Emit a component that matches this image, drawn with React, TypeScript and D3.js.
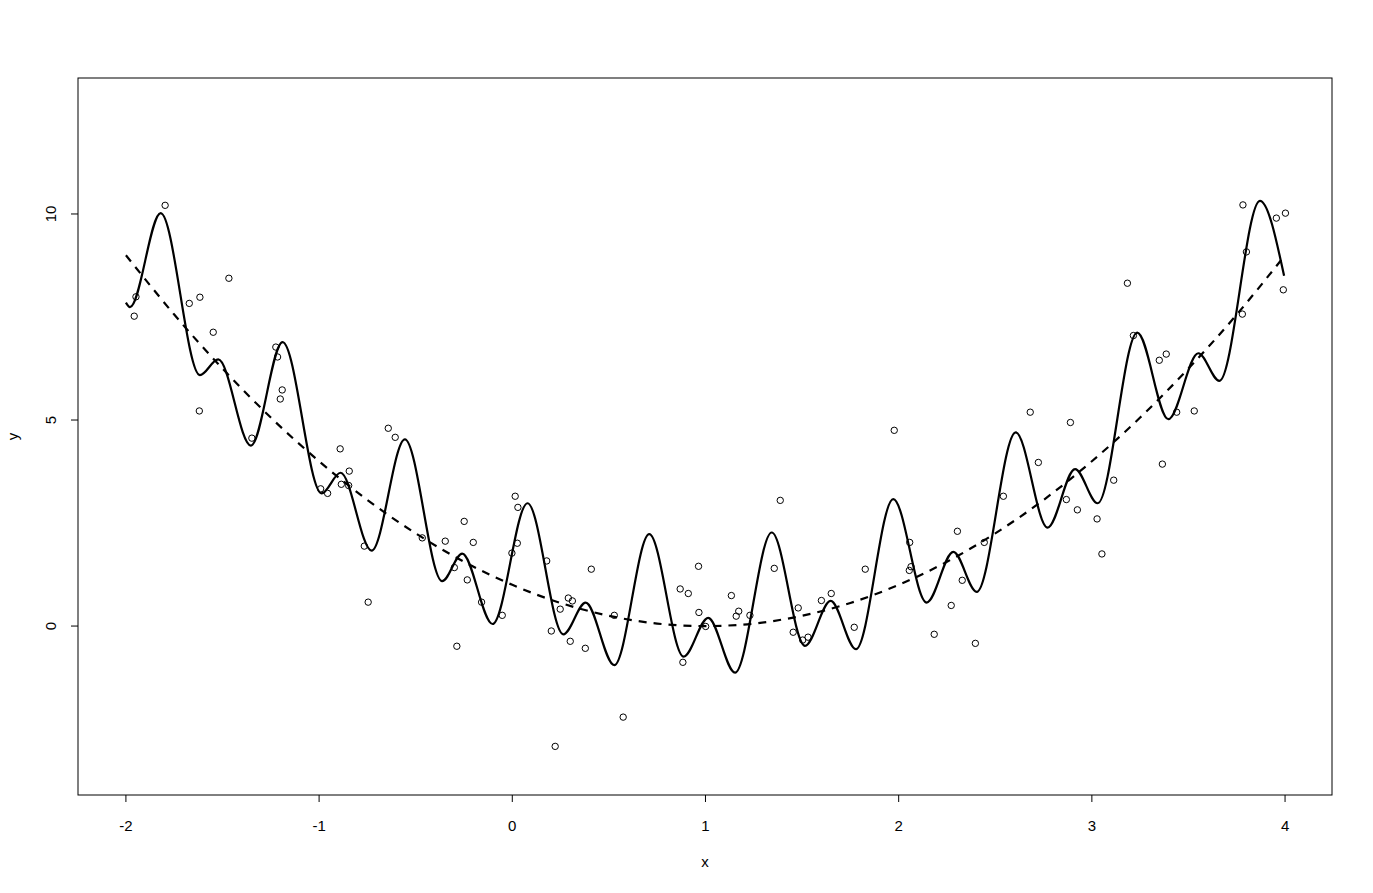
import React from "react";
import * as d3 from "d3";

const pointX = [
  -1.797, -1.948, -1.957, -1.467, -1.672, -1.617, -1.548, -1.620, -1.224, -1.215, -1.191, -1.201, -1.348,
  -0.642, -0.606, -0.891, -0.844, -0.885, -0.847, -0.992, -0.956, -0.766, -0.746, -0.466, -0.347, -0.249,
  -0.202, -0.300, -0.233, -0.159, -0.052, 0.015, 0.029, 0.026, -0.002, -0.287,
  0.178, 0.409, 0.290, 0.311, 0.248, 0.202, 0.300, 0.378, 0.528, 0.574, 0.222, 0.869, 0.911, 0.964, 0.966, 0.883,
  1.001, 1.134, 1.172, 1.159, 1.230, 1.387, 1.356, 1.480, 1.454, 1.503, 1.531, 1.600, 1.651, 1.770, 1.827,
  1.977, 2.057, 2.064, 2.055, 2.304, 2.329, 2.272, 2.184, 2.397, 2.443, 2.542, 2.681, 2.723, 2.889, 2.868, 2.925, 3.027,
  3.113, 3.365, 3.184, 3.215, 3.349, 3.385, 3.439, 3.530, 3.779, 3.800, 3.782, 3.955, 4.002, 3.991, 3.052,
];
const pointY = [
  10.21, 7.99, 7.52, 8.44, 7.83, 7.98, 7.13, 5.22, 6.77, 6.53, 5.73, 5.51, 4.56,
  4.80, 4.58, 4.30, 3.76, 3.44, 3.41, 3.33, 3.22, 1.94, 0.58, 2.14, 2.06, 2.54,
  2.03, 1.42, 1.12, 0.58, 0.26, 3.15, 2.88, 2.01, 1.77, -0.49,
  1.58, 1.38, 0.68, 0.61, 0.41, -0.12, -0.37, -0.54, 0.26, -2.21, -2.92, 0.90, 0.79, 1.45, 0.33, -0.88,
  -0.01, 0.74, 0.36, 0.24, 0.26, 3.05, 1.40, 0.44, -0.15, -0.34, -0.27, 0.62, 0.79, -0.03, 1.38,
  4.75, 2.03, 1.44, 1.35, 2.30, 1.11, 0.50, -0.20, -0.42, 2.03, 3.15, 5.19, 3.97, 4.94, 3.07, 2.82, 2.60,
  3.54, 3.93, 8.32, 7.05, 6.45, 6.60, 5.19, 5.22, 7.57, 9.08, 10.22, 9.90, 10.02, 8.16, 1.75,
];

// fitted curve: start, turning points, end
const fitX = [
  -2.0, -1.979, -1.82, -1.617, -1.522, -1.353, -1.189, -0.987, -0.889, -0.728, -0.556, -0.363, -0.259,
  -0.102, 0.079, 0.264, 0.38, 0.528, 0.709, 0.887, 1.014, 1.153, 1.343, 1.515, 1.648, 1.779, 1.972,
  2.145, 2.283, 2.404, 2.606, 2.771, 2.913, 3.03, 3.235, 3.396, 3.551, 3.66, 3.87, 3.995,
];
const fitY = [
  7.85, 7.74, 10.02, 6.09, 6.47, 4.38, 6.89, 3.22, 3.72, 1.83, 4.53, 1.09, 1.76,
  0.05, 2.98, -0.2, 0.57, -0.95, 2.23, -0.74, 0.2, -1.13, 2.27, -0.48, 0.61, -0.56, 3.08,
  0.57, 1.8, 0.83, 4.7, 2.39, 3.81, 2.98, 7.12, 5.02, 6.62, 5.95, 10.32, 8.5,
];

const trueX = [-2, -1.75, -1.5, -1.25, -1, -0.75, -0.5, -0.25, 0, 0.25, 0.5, 0.75, 1, 1.25, 1.5, 1.75, 2, 2.25, 2.5, 2.75, 3, 3.25, 3.5, 3.75, 4];
const trueY = [9, 7.56, 6.25, 5.06, 4, 3.06, 2.25, 1.56, 1, 0.56, 0.25, 0.06, 0, 0.06, 0.25, 0.56, 1, 1.56, 2.25, 3.06, 4, 5.06, 6.25, 7.56, 9];

const xTicks = [-2, -1, 0, 1, 2, 3, 4];
const yTicks = [0, 5, 10];

export default function App() {
  const W = 1373, H = 893;
  const left = 78, right = 1332, top = 78, bottom = 795;
  const x = d3.scaleLinear().domain([-2.248, 4.243]).range([left, right]);
  const y = d3.scaleLinear().domain([-4.10, 13.30]).range([bottom, top]);

  const fitLine = d3.line<number>()
    .x((_, i) => x(fitX[i]))
    .y((d) => y(d))
    .curve(d3.curveMonotoneX);
  const trueLine = d3.line<number>()
    .x((_, i) => x(trueX[i]))
    .y((d) => y(d))
    .curve(d3.curveNatural);

  const font = "Liberation Sans, Arial, sans-serif";
  const fs = 15;

  return (
    <svg width={W} height={H} style={{ position: "absolute", left: 0, top: 0, background: "#fff" }}>
      <rect x={0} y={0} width={W} height={H} fill="#fff" />
      {pointX.map((px, i) => (
        <circle key={i} cx={x(px)} cy={y(pointY[i])} r={3.2} fill="none" stroke="#000" strokeWidth={1} />
      ))}
      <path d={trueLine(trueY) || ""} fill="none" stroke="#000" strokeWidth={2.2} strokeDasharray="8,7" />
      <path d={fitLine(fitY) || ""} fill="none" stroke="#000" strokeWidth={2.2} strokeLinejoin="round" />
      <rect x={left} y={top} width={right - left} height={bottom - top} fill="none" stroke="#000" strokeWidth={1} />
      {xTicks.map((t) => (
        <g key={"x" + t}>
          <line x1={x(t)} x2={x(t)} y1={bottom} y2={bottom + 7} stroke="#000" />
          <text x={x(t)} y={831} textAnchor="middle" fontFamily={font} fontSize={fs}>{t}</text>
        </g>
      ))}
      {yTicks.map((t) => (
        <g key={"y" + t}>
          <line x1={left} x2={left - 7} y1={y(t)} y2={y(t)} stroke="#000" />
          <text transform={`translate(56,${y(t)}) rotate(-90)`} textAnchor="middle" fontFamily={font} fontSize={fs}>{t}</text>
        </g>
      ))}
      <text x={(left + right) / 2} y={867} textAnchor="middle" fontFamily={font} fontSize={fs}>x</text>
      <text transform={`translate(18,${(top + bottom) / 2}) rotate(-90)`} textAnchor="middle" fontFamily={font} fontSize={fs}>y</text>
    </svg>
  );
}
